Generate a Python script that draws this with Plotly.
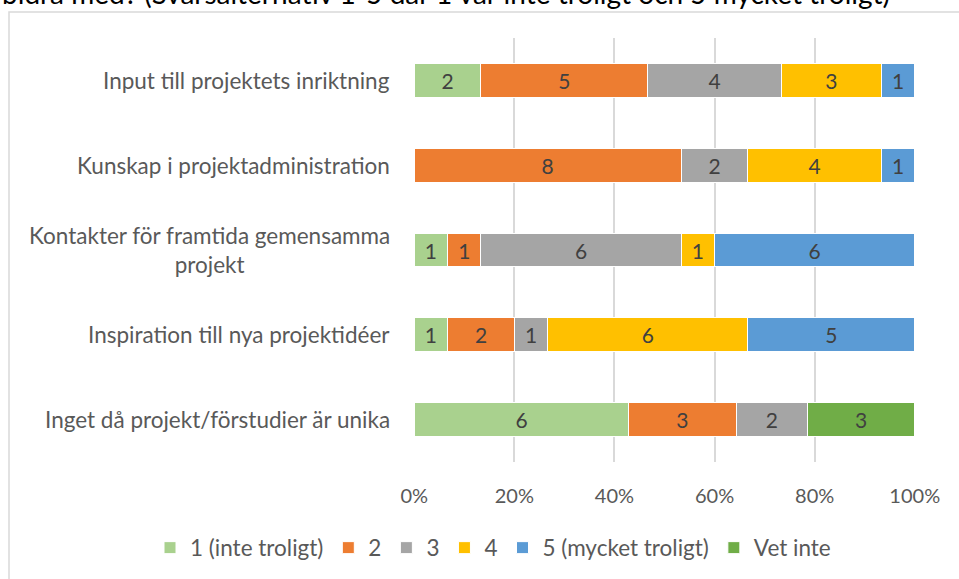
import plotly.graph_objects as go

categories = [
    "Inget då projekt/förstudier är unika",
    "Inspiration till nya projektidéer",
    "Kontakter för framtida gemensamma<br>projekt",
    "Kunskap i projektadministration",
    "Input till projektets inriktning",
]
series_names = ["1 (inte troligt)", "2", "3", "4", "5 (mycket troligt)", "Vet inte"]
s1 = [6, 1, 1, 0, 2]
s2 = [3, 2, 1, 8, 5]
s3 = [2, 1, 6, 2, 4]
s4 = [0, 6, 1, 4, 3]
s5 = [0, 5, 6, 1, 1]
s_vet = [3, 0, 0, 0, 0]
tick_vals = [0, 20, 40, 60, 80, 100]
tick_text = ["0%", "20%", "40%", "60%", "80%", "100%"]
title_text = "bidra med? (Svarsalternativ 1-5 där 1 var inte troligt och 5 mycket troligt)"

colors = ["#A9D18E", "#ED7D31", "#A5A5A5", "#FFC000", "#5B9BD5", "#70AD47"]
FONT = "Lato, Carlito, 'Liberation Sans', sans-serif"
W, H = 959, 579
L, R, T, B = 414, 44, 38, 117
pw, ph = W - L - R, H - T - B

fig = go.Figure()
for name, vals, col in zip(series_names, [s1, s2, s3, s4, s5, s_vet], colors):
    fig.add_trace(go.Bar(
        y=categories,
        x=[v if v else None for v in vals],
        text=[str(v) if v else "" for v in vals],
        name=name,
        orientation="h",
        marker=dict(color=col, line=dict(color="white", width=1)),
        textposition="inside",
        insidetextanchor="middle",
        textangle=0,
        constraintext="none",
        textfont=dict(family=FONT, size=21, color="#404040"),
        hoverinfo="skip",
    ))

fig.update_layout(
    width=W, height=H,
    margin=dict(l=L, r=R, t=T, b=B, pad=0, autoexpand=False),
    barmode="stack",
    barnorm="percent",
    bargap=0.6,
    plot_bgcolor="white",
    paper_bgcolor="white",
    font=dict(family=FONT, size=20, color="#595959"),
    showlegend=True,
    legend=dict(
        orientation="h",
        xref="paper",
        x=(150 - L) / pw, xanchor="left",
        y=(T + ph - 548) / ph, yanchor="middle",
        font=dict(family=FONT, size=22.5, color="#595959"),
        traceorder="normal",
        itemwidth=30,
        tracegroupgap=0,
        bgcolor="rgba(0,0,0,0)",
    ),
    xaxis=dict(
        range=[-0.05, 100.05],
        tickvals=tick_vals,
        ticktext=tick_text,
        showgrid=True,
        gridcolor="#D9D9D9",
        gridwidth=2,
        zeroline=False,
        showline=False,
        ticks="",
        ticklabelstandoff=20,
        tickfont=dict(family=FONT, size=20, color="#595959"),
        fixedrange=True,
    ),
    yaxis=dict(
        showticklabels=False,
        showgrid=False,
        zeroline=False,
        showline=False,
        ticks="",
        fixedrange=True,
    ),
)

for c in categories:
    fig.add_annotation(
        x=0, xref="paper", y=c, yref="y",
        text=c, showarrow=False,
        xanchor="right", xshift=-22, align="center",
        font=dict(family=FONT, size=22.5, color="#595959"),
    )

# chart frame
fig.add_shape(
    type="rect", xref="paper", yref="paper",
    x0=(9 - L) / pw, x1=2.0,
    y0=-1.0, y1=1 + (T - 12) / ph,
    line=dict(color="#D9D9D9", width=1.5),
    fillcolor="rgba(0,0,0,0)", layer="below",
)

# cropped question text at top
fig.add_annotation(
    x=-L / pw, xref="paper", xanchor="left",
    y=1 + (T - 12) / ph, yref="paper", yanchor="bottom",
    text=title_text, showarrow=False,
    font=dict(family=FONT, size=28, color="#000000"),
)

fig.write_html("out.html", config={"displayModeBar": False},
               post_script="document.body.style.margin='0';")
